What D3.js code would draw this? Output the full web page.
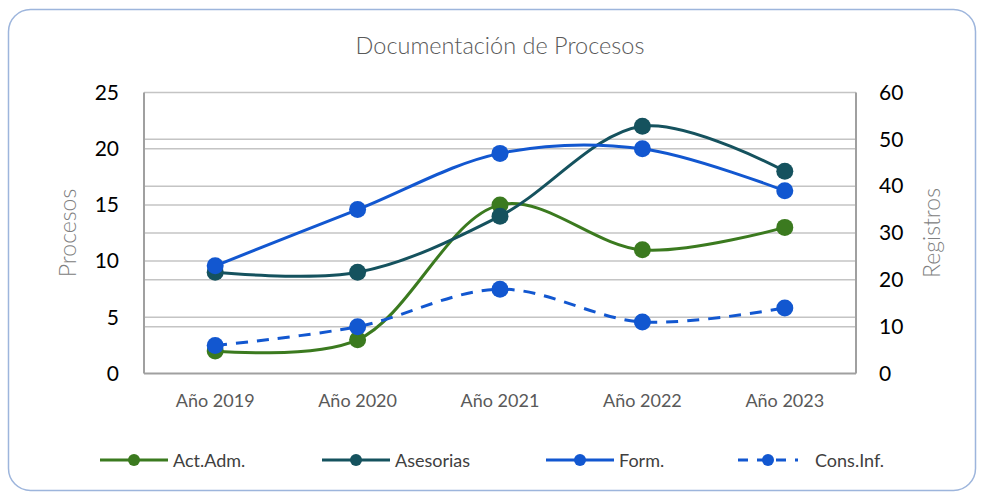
<!DOCTYPE html>
<html>
<head>
<meta charset="utf-8">
<script src="https://cdn.jsdelivr.net/npm/d3@7"></script>
<style>
  html, body { margin: 0; padding: 0; background: #fff; }
  svg { display: block; font-family: Lato, "Liberation Sans", sans-serif; }
</style>
</head>
<body>
<svg id="chart" width="984" height="500"></svg>
<script>
// Categories (years)
const years = ["Año 2019", "Año 2020", "Año 2021", "Año 2022", "Año 2023"];

// Left axis series (Procesos)
const actAdm = [2, 3, 15, 11, 13];
const asesorias = [9, 9, 14, 22, 18];

// Right axis series (Registros)
const form = [23, 35, 47, 48, 39];
const consInf = [6, 10, 18, 11, 14];

// Tick values
const leftTicks = [0, 5, 10, 15, 20, 25];
const rightTicks = [0, 10, 20, 30, 40, 50, 60];

const series = [
  { name: "Act.Adm.", values: actAdm, axis: "left", color: "#3b7a1f", dash: null },
  { name: "Asesorias", values: asesorias, axis: "left", color: "#15525e", dash: null },
  { name: "Form.", values: form, axis: "right", color: "#1257d0", dash: null },
  { name: "Cons.Inf.", values: consInf, axis: "right", color: "#1257d0", dash: "12,9" }
];

const svg = d3.select("#chart");
const W = 984, H = 500;
const plot = { left: 144, right: 856, top: 92.5, bottom: 373.5 };

// Outer rounded frame
svg.append("rect")
  .attr("x", 8.5).attr("y", 9.5)
  .attr("width", W - 17).attr("height", H - 19)
  .attr("rx", 22).attr("ry", 22)
  .attr("fill", "#fff")
  .attr("stroke", "#9db5dc").attr("stroke-width", 1.5);

// Title
svg.append("text")
  .attr("x", 500).attr("y", 54)
  .attr("text-anchor", "middle")
  .attr("font-size", 23.5)
  .attr("font-weight", 300)
  .attr("fill", "#595959")
  .text("Documentación de Procesos");

const x = d3.scaleBand().domain(years).range([plot.left, plot.right]);
const yL = d3.scaleLinear().domain([0, 25]).range([plot.bottom, plot.top]);
const yR = d3.scaleLinear().domain([0, 60]).range([plot.bottom, plot.top]);

// Gridlines for both axes
const grid = svg.append("g");
leftTicks.filter(t => t > 0).forEach(t => {
  grid.append("line")
    .attr("x1", plot.left).attr("x2", plot.right)
    .attr("y1", yL(t)).attr("y2", yL(t))
    .attr("stroke", "#c4c4c4").attr("stroke-width", 1.5);
});
rightTicks.filter(t => t > 0 && t < 60).forEach(t => {
  grid.append("line")
    .attr("x1", plot.left).attr("x2", plot.right)
    .attr("y1", yR(t)).attr("y2", yR(t))
    .attr("stroke", "#c4c4c4").attr("stroke-width", 1.5);
});

// Plot frame
svg.append("line").attr("x1", plot.left).attr("x2", plot.left)
  .attr("y1", plot.top).attr("y2", plot.bottom)
  .attr("stroke", "#a0a0a0").attr("stroke-width", 2);
svg.append("line").attr("x1", plot.right).attr("x2", plot.right)
  .attr("y1", plot.top).attr("y2", plot.bottom)
  .attr("stroke", "#a0a0a0").attr("stroke-width", 2);
svg.append("line").attr("x1", plot.left).attr("x2", plot.right)
  .attr("y1", plot.bottom).attr("y2", plot.bottom)
  .attr("stroke", "#a0a0a0").attr("stroke-width", 2);

// Left axis
const leftAxis = svg.append("g")
  .attr("transform", `translate(${plot.left - 25},0)`)
  .call(d3.axisLeft(yL).tickValues(leftTicks).tickSize(0).tickPadding(0));
leftAxis.select(".domain").remove();
leftAxis.selectAll("text").attr("font-size", 21).attr("fill", "#000")
  .attr("font-family", "Lato, sans-serif");

// Right axis
const rightAxis = svg.append("g")
  .attr("transform", `translate(${plot.right + 23},0)`)
  .call(d3.axisRight(yR).tickValues(rightTicks).tickSize(0).tickPadding(0));
rightAxis.select(".domain").remove();
rightAxis.selectAll("text").attr("font-size", 21).attr("fill", "#000")
  .attr("font-family", "Lato, sans-serif");

// Bottom axis labels
const bottomAxis = svg.append("g")
  .attr("transform", `translate(0,${plot.bottom + 11})`)
  .call(d3.axisBottom(x).tickSize(0).tickPadding(10));
bottomAxis.select(".domain").remove();
bottomAxis.selectAll("text").attr("font-size", 18).attr("fill", "#595959")
  .attr("font-family", "Lato, sans-serif");

// Axis titles
svg.append("text")
  .attr("transform", `translate(76,${(plot.top + plot.bottom) / 2}) rotate(-90)`)
  .attr("text-anchor", "middle")
  .attr("font-size", 23).attr("font-weight", 300).attr("fill", "#808080")
  .text("Procesos");
svg.append("text")
  .attr("transform", `translate(940,${(plot.top + plot.bottom) / 2}) rotate(-90)`)
  .attr("text-anchor", "middle")
  .attr("font-size", 23).attr("font-weight", 300).attr("fill", "#808080")
  .text("Registros");

// Series lines and markers
const cx = d => x(d) + x.bandwidth() / 2;
series.forEach(s => {
  const y = s.axis === "left" ? yL : yR;
  const pts = s.values.map((v, i) => [cx(years[i]), y(v)]);
  const line = d3.line().curve(d3.curveCatmullRom.alpha(0.5));
  svg.append("path")
    .attr("d", line(pts))
    .attr("fill", "none")
    .attr("stroke", s.color)
    .attr("stroke-width", 3)
    .attr("stroke-dasharray", s.dash)
    .attr("stroke-linecap", s.dash ? "butt" : "round");
  svg.append("g").selectAll("circle")
    .data(pts).join("circle")
    .attr("cx", d => d[0]).attr("cy", d => d[1])
    .attr("r", 8.5)
    .attr("fill", s.color);
});

// Legend
const legendX = [100, 322, 546, 738];
const legend = svg.append("g");
series.forEach((s, i) => {
  const g = legend.append("g").attr("transform", `translate(${legendX[i]},460)`);
  g.append("line")
    .attr("x1", 0).attr("x2", s.dash ? 60 : 68)
    .attr("y1", 0).attr("y2", 0)
    .attr("stroke", s.color).attr("stroke-width", 3)
    .attr("stroke-dasharray", s.dash ? "10,9" : null);
  g.append("circle").attr("cx", s.dash ? 30 : 34).attr("cy", 0).attr("r", 6).attr("fill", s.color);
  g.append("text")
    .attr("x", s.dash ? 77 : 73).attr("y", 6.5)
    .attr("font-size", 18).attr("fill", "#404040")
    .text(s.name);
});
</script>
</body>
</html>
